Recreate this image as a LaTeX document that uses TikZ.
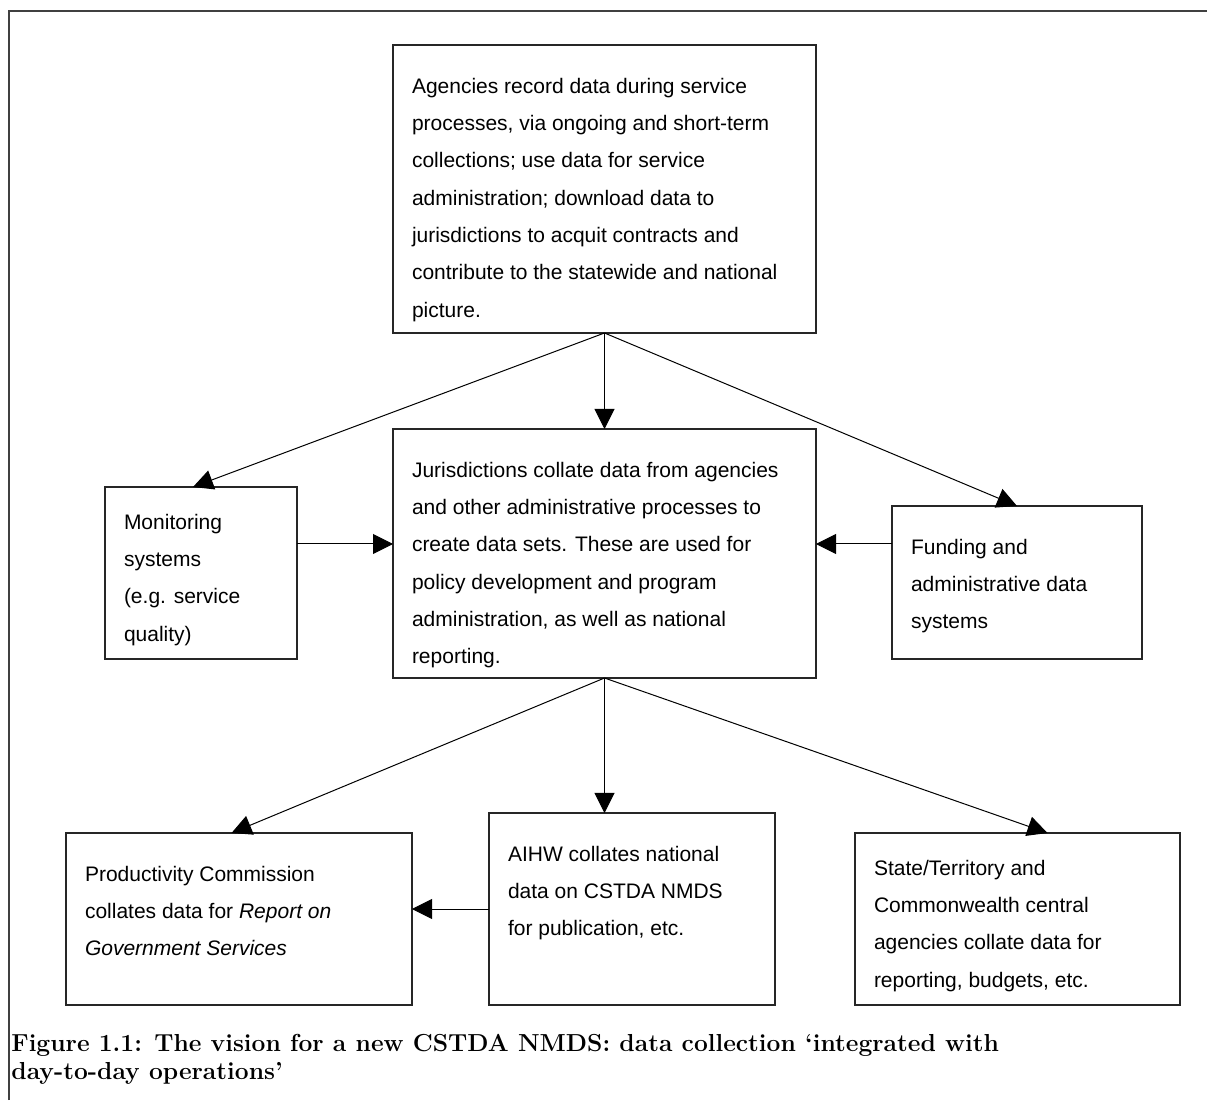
\documentclass[tikz,border=0pt]{standalone}
\usepackage{fontspec}
\setsansfont{Liberation Sans}
\usetikzlibrary{positioning,arrows.meta}

\newcommand{\boxtext}[3]{\parbox[t][#2][t]{#1}{\raggedright #3}}

\begin{document}
\begin{tikzpicture}[x=0.5pt,y=0.5pt,
		boxnode/.style={draw=black!85,line width=0.6pt,inner xsep=9.5pt,inner ysep=16.5pt,outer sep=0pt,font=\sffamily\fontsize{10.5}{18.65}\selectfont},
		lowboxnode/.style={boxnode,inner ysep=13.5pt},
		feed/.style={-{Triangle[length=10pt,width=10pt]},line width=0.5pt},
		captionnode/.style={font=\bfseries\fontsize{12.3}{13.8}\selectfont,align=left,inner sep=0pt}]
		\useasboundingbox (0,0) rectangle (1207,1100);
		\draw[line width=1pt,black!75] (8.5,0) |- (1207,1089);

		\node[boxnode,anchor=north]	at (604.5,1055)									(00)	{\boxtext{192.5pt}{111pt}{Agencies record data during service\\processes, via ongoing and short-term\\collections; use data for service\\administration; download data to\\jurisdictions to acquit contracts and\\contribute to the statewide and national\\picture.}};
		\node[boxnode,node distance=48pt,below=of 00]								(11)	{\boxtext{192.5pt}{91.5pt}{Jurisdictions collate data from agencies\\and other administrative processes to\\create data sets. These are used for\\policy development and program\\administration, as well as national\\reporting.}};
		\node[lowboxnode,node distance=48pt,left=of 11,yshift=-9.75pt]				(10)	{\boxtext{77pt}{59pt}{Monitoring\\systems\\(e.g. service\\quality)}};
		\node[boxnode,node distance=38pt,right=of 11,yshift=-14.5pt]				(12)	{\boxtext{106pt}{43.5pt}{Funding and\\administrative data\\systems}};
		\node[boxnode,node distance=67.5pt,below=of 11,xshift=13.75pt]				(21)	{\boxtext{124pt}{63pt}{AIHW collates national\\data on CSTDA NMDS\\for publication, etc.}};
		\node[boxnode,node distance=38.5pt,left=of 21,yshift=-5pt]					(20)	{\boxtext{154pt}{53pt}{Productivity Commission\\collates data for \textit{Report on}\\\textit{Government Services}}};
		\node[lowboxnode,node distance=40pt,right=of 21,yshift=-5pt]				(22)	{\boxtext{143.5pt}{59pt}{State/Territory and\\Commonwealth central\\agencies collate data for\\reporting, budgets, etc.}};
		\coordinate[yshift=4.75pt] (inflow) at (11.west);

		\draw[feed] (00.south) -- ([xshift=-4pt]10.north);
		\draw[feed] (00.south) -- (11.north);
		\draw[feed] (00.south) -- (12.north);
		\draw[feed] (10.east |- inflow) -- (inflow);
		\draw[feed] (12.west |- inflow) -- (11.east |- inflow);
		\draw[feed] (11.south) -- ([xshift=-3.75pt]20.north);
		\draw[feed] (11.south) -- (11.south |- 21.north);
		\draw[feed] (11.south) -- ([xshift=15pt]22.north);
		\draw[feed] (21.west) -- (21.west -| 20.east);

		\node[captionnode,anchor=north west] at (11,66)						(cap)	{Figure 1.1: The vision for a new CSTDA NMDS: data collection ‘integrated with\\day-to-day operations’};
	\end{tikzpicture}
\end{document}
